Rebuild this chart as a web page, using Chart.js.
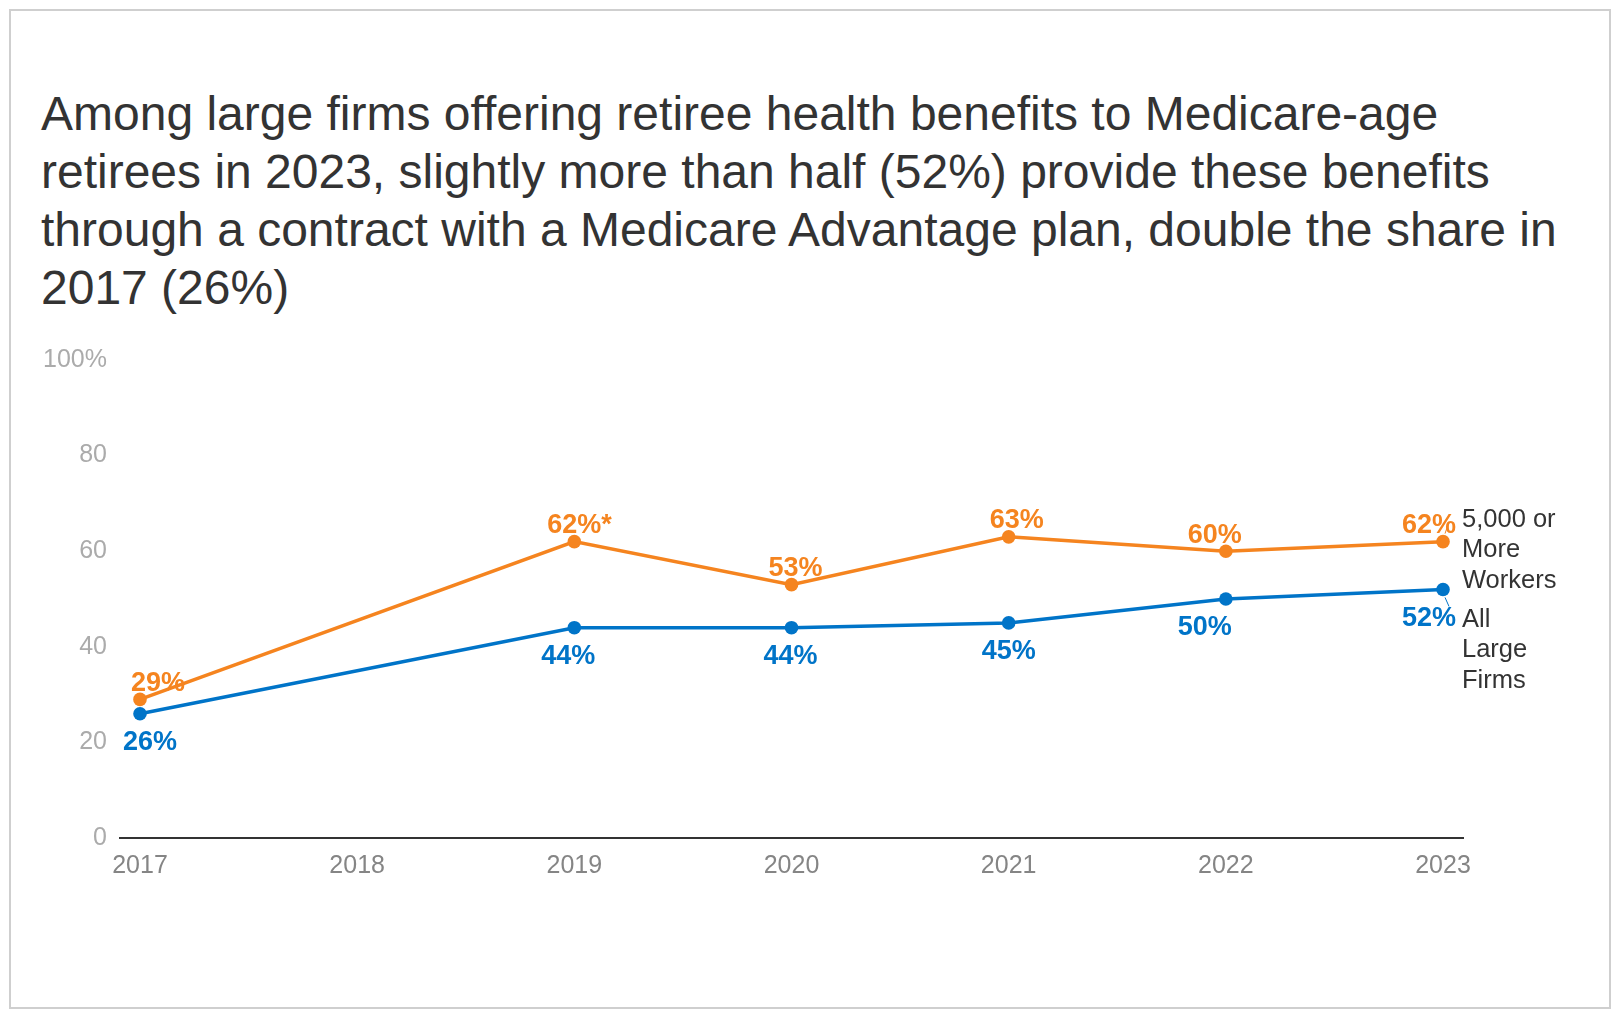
<!DOCTYPE html>
<html>
<head>
<meta charset="utf-8">
<script src="https://cdn.jsdelivr.net/npm/chart.js@4.4.1/dist/chart.umd.min.js"></script>
<style>
  html, body { margin: 0; padding: 0; background: #fff; }
  #wrap { position: relative; width: 1620px; height: 1020px; overflow: hidden; font-family: "Liberation Sans", Arial, sans-serif; }
  #frame { position: absolute; left: 9px; top: 9px; width: 1602px; height: 1000px; box-sizing: border-box; border: 2px solid #cfcfcf; }
  #title { position: absolute; left: 41px; top: 85px; font-size: 48px; line-height: 58px; color: #333; white-space: nowrap; }
  canvas { position: absolute; left: 0; top: 0; }
</style>
</head>
<body>
<div id="wrap">
  <div id="frame"></div>
  <div id="title">Among large firms offering retiree health benefits to Medicare-age<br>retirees in 2023, slightly more than half (52%) provide these benefits<br>through a contract with a Medicare Advantage plan, double the share in<br>2017 (26%)</div>
  <canvas id="c" width="1620" height="1020"></canvas>
</div>
<script>
const years = [2017, 2018, 2019, 2020, 2021, 2022, 2023];
const firms5000Plus = [29, null, 62, 53, 63, 60, 62];
const allLargeFirms = [26, null, 44, 44, 45, 50, 52];
const firms5000Notes = ['', '', '*', '', '', '', ''];
const allLargeNotes = ['', '', '', '', '', '', ''];
const yTickValues = [0, 20, 40, 60, 80, 100];
const seriesNames = [['5,000 or', 'More', 'Workers'], ['All', 'Large', 'Firms']];

const ORANGE = '#F5841F';
const BLUE = '#0074C8';
const FONT = '"Liberation Sans", Arial, sans-serif';

// label placement (pixel nudges per plotted point, in drawing order)
const labelNudge = [
  { dx: [18, 0, 4, 8, -11, -14], dy: -16 },
  { dx: [10, -6, -1, 0, -21, -14], dy: 29 }
];

function toPoints(vals) {
  return years.map((x, i) => ({ x: x, y: vals[i] })).filter(p => p.y !== null);
}
function toNotes(vals, notes) {
  return years.map((x, i) => ({ v: vals[i], n: notes[i] })).filter(p => p.v !== null);
}

const labelPlugin = {
  id: 'labels',
  afterDatasetsDraw(chart) {
    const ctx = chart.ctx;
    ctx.save();
    ctx.textBaseline = 'middle';
    chart.data.datasets.forEach((ds, di) => {
      const meta = chart.getDatasetMeta(di);
      const last = meta.data.length - 1;
      ctx.font = 'bold 27px ' + FONT;
      meta.data.forEach((pt, i) => {
        const info = ds.labelInfo[i];
        const main = info.v + '%';
        const dx = labelNudge[di].dx[i] || 0, dy = labelNudge[di].dy;
        ctx.fillStyle = ds.borderColor;
        const w = ctx.measureText(main).width;
        ctx.textAlign = 'left';
        ctx.fillText(main + info.n, pt.x + dx - w / 2, pt.y + dy);
        if (i === last) {
          ctx.strokeStyle = ds.borderColor;
          ctx.lineWidth = 1;
          ctx.beginPath();
          if (di === 0) { ctx.moveTo(pt.x + 2, pt.y - 8); ctx.lineTo(pt.x + 6, pt.y - 20); }
          else { ctx.moveTo(pt.x + 2, pt.y + 8); ctx.lineTo(pt.x + 6, pt.y + 17); }
          ctx.stroke();
        }
      });
      // series name at right
      const lp = meta.data[last];
      ctx.font = '25.5px ' + FONT;
      ctx.fillStyle = '#333';
      ctx.textAlign = 'left';
      const names = seriesNames[di];
      const startY = di === 0 ? 520 - lp.y : 620 - lp.y;
      names.forEach((s, k) => ctx.fillText(s, 1462, lp.y + startY + k * 30.3));
    });
    ctx.restore();
  }
};

new Chart(document.getElementById('c'), {
  type: 'line',
  data: {
    datasets: [
      { label: '5,000 or More Workers', data: toPoints(firms5000Plus), labelInfo: toNotes(firms5000Plus, firms5000Notes),
        borderColor: ORANGE, backgroundColor: ORANGE, pointBackgroundColor: ORANGE, pointBorderColor: ORANGE,
        borderWidth: 3.5, pointRadius: 6.8, pointBorderWidth: 0, tension: 0 },
      { label: 'All Large Firms', data: toPoints(allLargeFirms), labelInfo: toNotes(allLargeFirms, allLargeNotes),
        borderColor: BLUE, backgroundColor: BLUE, pointBackgroundColor: BLUE, pointBorderColor: BLUE,
        borderWidth: 3.5, pointRadius: 6.8, pointBorderWidth: 0, tension: 0 }
    ]
  },
  options: {
    responsive: false,
    animation: false,
    devicePixelRatio: 1,
    layout: { padding: { left: 20, right: 157, top: 360, bottom: 122 } },
    plugins: { legend: { display: false }, tooltip: { enabled: false }, title: { display: false } },
    scales: {
      x: {
        type: 'linear',
        min: years[0] - 0.092,
        max: years[years.length - 1] + 0.092,
        afterFit(s) { s.height = 60; },
        afterBuildTicks(s) { s.ticks = years.map(v => ({ value: v })); },
        ticks: { stepSize: 1, includeBounds: false, autoSkip: false, maxRotation: 0, padding: 13,
          color: '#858585', font: { family: FONT, size: 25 }, callback: v => String(v) },
        grid: { display: false, drawTicks: false },
        border: { display: true, color: '#333', width: 2 }
      },
      y: {
        min: 0, max: 100,
        afterFit(s) { s.width = 100; },
        afterBuildTicks(s) { s.ticks = yTickValues.map(v => ({ value: v })); },
        ticks: { padding: 13, color: '#ababab', font: { family: FONT, size: 25 },
          callback: v => v === 100 ? v + '%' : String(v) },
        grid: { display: false, drawTicks: false },
        border: { display: false }
      }
    }
  },
  plugins: [labelPlugin]
});
</script>
</body>
</html>
